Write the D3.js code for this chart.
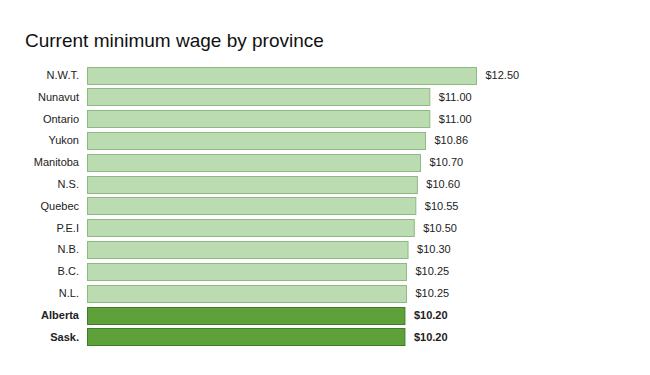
<!DOCTYPE html>
<html>
<head>
<meta charset="utf-8">
<script src="https://d3js.org/d3.v7.min.js"></script>
<style>
  body { margin: 0; background: #fff; }
  text { font-family: "Liberation Sans", Arial, sans-serif; }
</style>
</head>
<body>
<script>
// provinces, top to bottom
var provinces = ['N.W.T.', 'Nunavut', 'Ontario', 'Yukon', 'Manitoba', 'N.S.', 'Quebec',
    'P.E.I', 'N.B.', 'B.C.', 'N.L.', 'Alberta', 'Sask.'];
var wages = [12.50, 11.00, 11.00, 10.86, 10.70, 10.60, 10.55, 10.50, 10.30, 10.25, 10.25, 10.20, 10.20];
// provinces drawn in the dark colour
var highlighted = ['Alberta', 'Sask.'];

var width = 650,
    height = 375;

var svg = d3.select('body')
    .append('svg')
    .attr('width', width)
    .attr('height', height);

// title
svg.append('text')
    .attr('x', 25)
    .attr('y', 47)
    .attr('font-size', 19)
    .attr('fill', '#111')
    .text('Current minimum wage by province');

var x = d3.scaleLinear()
    .domain([0, 12.5])
    .range([87.5, 476.5]);

var y = d3.scaleBand()
    .domain(provinces)
    .range([64.5, 347.5])
    .paddingInner(0.22)
    .paddingOuter(0.1);

var rows = svg.selectAll('g.row')
    .data(provinces)
    .enter().append('g')
    .attr('class', 'row');

rows.append('rect')
    .attr('x', x(0))
    .attr('y', function(d) { return Math.round(y(d)) + 0.5; })
    .attr('width', function(d, i) { return x(wages[i]) - x(0); })
    .attr('height', Math.round(y.bandwidth()))
    .attr('fill', function(d) { return highlighted.includes(d) ? '#5ea13a' : '#bbdcb1'; })
    .attr('stroke', function(d) { return highlighted.includes(d) ? '#3f7d27' : '#8fb984'; })
    .attr('stroke-width', 1);

// province names on the left
rows.append('text')
    .attr('x', 79)
    .attr('y', function(d) { return y(d) + y.bandwidth() / 2; })
    .attr('dy', '0.35em')
    .attr('text-anchor', 'end')
    .attr('font-size', 11)
    .attr('font-weight', function(d) { return highlighted.includes(d) ? 'bold' : 'normal'; })
    .attr('fill', '#222')
    .text(function(d) { return d; });

// values at bar ends
rows.append('text')
    .attr('x', function(d, i) { return x(wages[i]) + 9; })
    .attr('y', function(d) { return y(d) + y.bandwidth() / 2; })
    .attr('dy', '0.35em')
    .attr('font-size', 11)
    .attr('font-weight', function(d) { return highlighted.includes(d) ? 'bold' : 'normal'; })
    .attr('fill', '#222')
    .text(function(d, i) { return '$' + wages[i].toFixed(2); });
</script>
</body>
</html>
